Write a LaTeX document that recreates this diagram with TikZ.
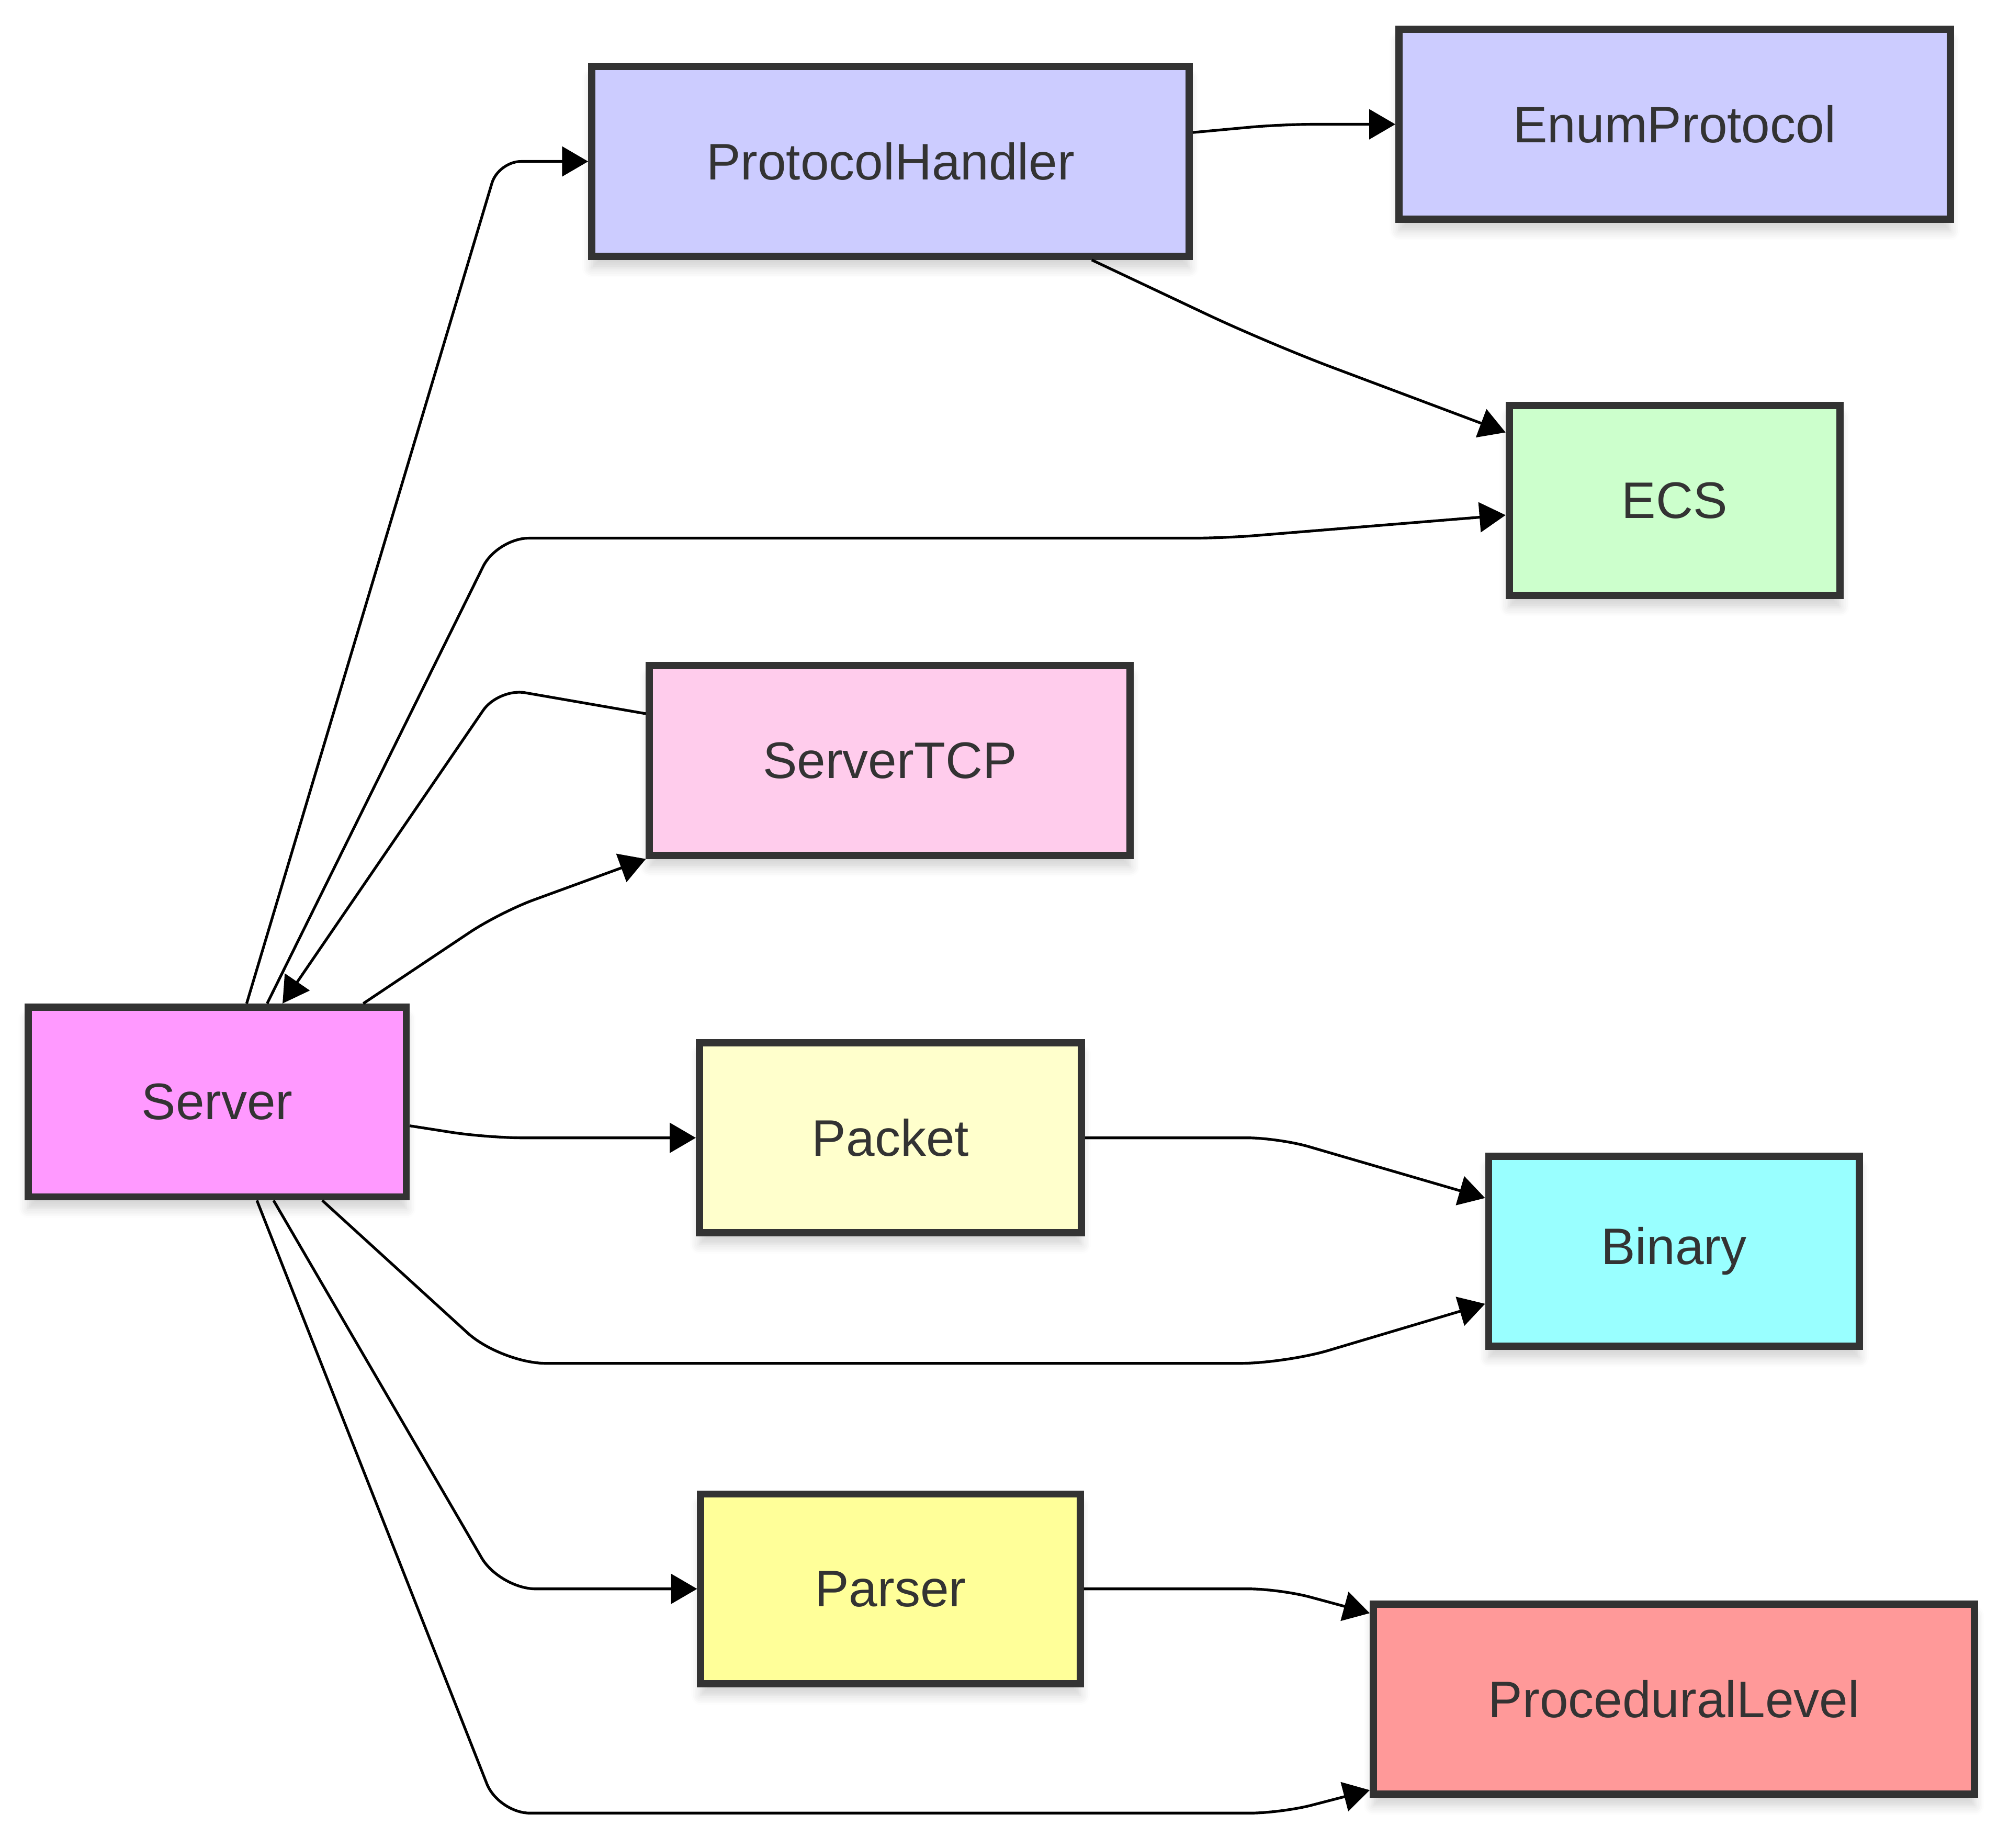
\documentclass[tikz,border=0pt]{standalone}
\usepackage{fontspec}
\setmainfont{Liberation Sans}
\usetikzlibrary{arrows.meta,shadows.blur}

\definecolor{srvpink}{HTML}{FF99FF}
\definecolor{lilac}{HTML}{CCCCFF}
\definecolor{mint}{HTML}{CCFFCC}
\definecolor{tcppink}{HTML}{FFCCEC}
\definecolor{cream}{HTML}{FFFFCC}
\definecolor{aqua}{HTML}{99FFFF}
\definecolor{lemon}{HTML}{FFFF99}
\definecolor{salmon}{HTML}{FF9999}
\definecolor{inkgray}{HTML}{333333}

\begin{document}
\begin{tikzpicture}[x=0.01cm, y=-0.01cm,
  box/.style={draw=inkgray, line width=1.6pt, minimum height=1.48cm,
    inner sep=0pt, text=inkgray, font=\fontsize{11.4}{13.7}\selectfont,
    blur shadow={shadow xshift=0pt, shadow yshift=-0.9mm,
      shadow blur steps=6, shadow opacity=18}},
  link/.style={line width=0.6pt, -{Triangle[length=5.8pt, width=6.6pt]},
    rounded corners=7pt}]
  \useasboundingbox (0,0) rectangle (1568,1442);

  % Boxes
  \node[box, fill=srvpink, minimum width=2.95cm] (srv)   at (169.5,860)  {Server};
  \node[box, fill=lilac,   minimum width=4.66cm] (ph)    at (695,126)    {ProtocolHandler};
  \node[box, fill=lilac,   minimum width=4.30cm] (enump) at (1307,97)    {EnumProtocol};
  \node[box, fill=mint,    minimum width=2.58cm] (ecs)   at (1307,390.5) {ECS};
  \node[box, fill=tcppink, minimum width=3.75cm] (stcp)  at (694.5,593.5) {ServerTCP};
  \node[box, fill=cream,   minimum width=2.98cm] (pkt)   at (695,888)    {Packet};
  \node[box, fill=aqua,    minimum width=2.89cm] (bin)   at (1306.5,976.5) {Binary};
  \node[box, fill=lemon,   minimum width=2.96cm] (prs)   at (695,1240)   {Parser};
  \node[box, fill=salmon,  minimum width=4.69cm] (plev)  at (1306.5,1326) {ProceduralLevel};

  % Links out of Server
  \draw[link, rounded corners=5pt] ([xshift=0.23cm]srv.north) -- (389,126) -- (ph.west);
  \draw[link] ([xshift=0.39cm]srv.north) -- (388,420) -- (955,420)
    -- ([yshift=-0.115cm]ecs.west);
  \draw[link, rounded corners=8pt] ([xshift=1.14cm]srv.north) -- (390,712)
    -- (stcp.south west);
  \draw[link, rounded corners=8pt] ([yshift=-0.186cm]srv.east) -- (380,888) -- (pkt.west);
  \draw[link, rounded corners=10pt] ([xshift=0.82cm]srv.south) -- (391,1064)
    -- (1003,1064) -- ([yshift=-0.41cm]bin.west);
  \draw[link, rounded corners=8pt] ([xshift=0.44cm]srv.south) -- (390,1240) -- (prs.west);
  \draw[link] ([xshift=0.31cm]srv.south) -- (389,1415) -- (1000,1415)
    -- ([yshift=-0.71cm]plev.west);

  % Link back into Server
  \draw[link, rounded corners=6pt] ([yshift=0.365cm]stcp.west) -- (389,537)
    -- ([xshift=0.51cm]srv.north);

  % Second column
  \draw[link] ([yshift=0.226cm]ph.east) -- (1000,97) -- (enump.west);
  \draw[link, rounded corners=15pt] ([xshift=1.57cm]ph.south) -- (990,268)
    -- ([yshift=0.53cm]ecs.west);
  \draw[link] (pkt.east) -- (998,888) -- ([yshift=0.415cm]bin.west);
  \draw[link] (prs.east) -- (999,1240) -- ([yshift=0.67cm]plev.west);

\end{tikzpicture}
\end{document}
